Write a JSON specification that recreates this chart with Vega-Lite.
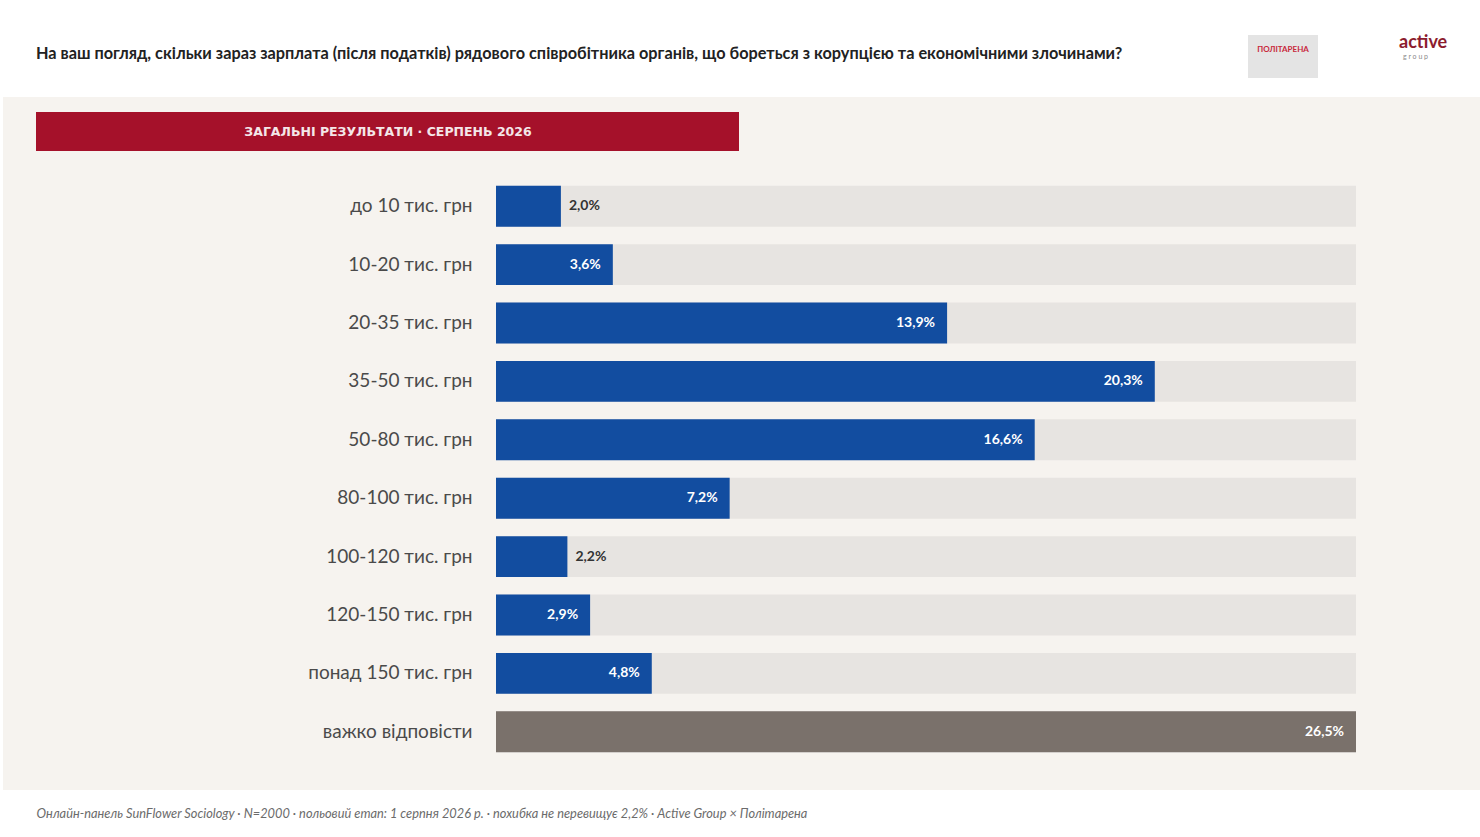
{
  "$schema": "https://vega.github.io/schema/vega-lite/v6.json",
  "autosize": {"type": "none"},
  "width": 1477,
  "height": 693,
  "padding": {"left": 3, "top": 97, "right": 0, "bottom": 47},
  "background": "white",
  "view": {"fill": "#f6f3ef", "stroke": null},
  "config": {
    "view": {"fill": "#f6f3ef", "stroke": null},
    "font": "Lato"
  },
  "data": {
    "values": [
      {"category": "до 10 тис. грн", "value": 2.0, "label": "2,0%", "group": "answer"},
      {"category": "10-20 тис. грн", "value": 3.6, "label": "3,6%", "group": "answer"},
      {"category": "20-35 тис. грн", "value": 13.9, "label": "13,9%", "group": "answer"},
      {"category": "35-50 тис. грн", "value": 20.3, "label": "20,3%", "group": "answer"},
      {"category": "50-80 тис. грн", "value": 16.6, "label": "16,6%", "group": "answer"},
      {"category": "80-100 тис. грн", "value": 7.2, "label": "7,2%", "group": "answer"},
      {"category": "100-120 тис. грн", "value": 2.2, "label": "2,2%", "group": "answer"},
      {"category": "120-150 тис. грн", "value": 2.9, "label": "2,9%", "group": "answer"},
      {"category": "понад 150 тис. грн", "value": 4.8, "label": "4,8%", "group": "answer"},
      {"category": "важко відповісти", "value": 26.5, "label": "26,5%", "group": "hard"}
    ]
  },
  "transform": [
    {"joinaggregate": [{"op": "max", "field": "value", "as": "maxv"}]}
  ],
  "layer": [
    {
      "mark": {"type": "bar", "color": "#e7e4e1"},
      "encoding": {
        "y": {
          "field": "category",
          "type": "nominal",
          "sort": null,
          "scale": {"range": [80, 664], "paddingInner": 0.3, "paddingOuter": 0.15},
          "axis": {
            "orient": "left",
            "offset": -493,
            "labelPadding": 24,
            "domain": false,
            "ticks": false,
            "grid": false,
            "title": null,
            "labelFont": "Lato",
            "labelFontSize": 19,
            "labelColor": "#4a4a4a",
            "labelLimit": 400
          }
        },
        "x": {
          "field": "maxv",
          "type": "quantitative",
          "scale": {"domain": [0, 26.5], "range": [493, 1353], "nice": false},
          "axis": {
            "orient": "bottom",
            "labels": false,
            "ticks": false,
            "domain": false,
            "grid": false,
            "title": "Онлайн-панель SunFlower Sociology · N=2000 · польовий етап: 1 серпня 2026 р. · похибка не перевищує 2,2% · Active Group × Політарена",
            "titleFont": "Lato",
            "titleFontStyle": "italic",
            "titleFontWeight": "normal",
            "titleFontSize": 12.8,
            "titleColor": "#6b6b6b",
            "titleAnchor": "start",
            "titleAlign": "left",
            "titleBaseline": "middle",
            "titleX": 33,
            "titleY": 23
          }
        }
      }
    },
    {
      "mark": {"type": "bar"},
      "encoding": {
        "y": {"field": "category", "type": "nominal", "sort": null},
        "x": {"field": "value", "type": "quantitative"},
        "color": {
          "field": "group",
          "type": "nominal",
          "scale": {"domain": ["answer", "hard"], "range": ["#124da0", "#7a716b"]},
          "legend": null
        }
      }
    },
    {
      "transform": [{"filter": "datum.value >= 2.5"}],
      "mark": {"type": "text", "align": "right", "baseline": "middle", "dx": -12, "color": "white", "font": "Lato", "fontSize": 14, "fontWeight": "bold"},
      "encoding": {
        "y": {"field": "category", "type": "nominal", "sort": null},
        "x": {"field": "value", "type": "quantitative"},
        "text": {"field": "label"}
      }
    },
    {
      "transform": [{"filter": "datum.value < 2.5"}],
      "mark": {"type": "text", "align": "left", "baseline": "middle", "dx": 8, "color": "#333333", "font": "Lato", "fontSize": 14, "fontWeight": "bold"},
      "encoding": {
        "y": {"field": "category", "type": "nominal", "sort": null},
        "x": {"field": "value", "type": "quantitative"},
        "text": {"field": "label"}
      }
    },
    {
      "data": {"values": [{"t": "На ваш погляд, скільки зараз зарплата (після податків) рядового співробітника органів, що бореться з корупцією та економічними злочинами?"}]},
      "mark": {"type": "text", "x": 33, "y": -43, "align": "left", "baseline": "middle", "color": "#222222", "font": "Lato", "fontSize": 16.3, "fontWeight": "bold"},
      "encoding": {"text": {"field": "t"}}
    },
    {
      "data": {"values": [{"t": "ЗАГАЛЬНІ РЕЗУЛЬТАТИ · СЕРПЕНЬ 2026"}]},
      "mark": {"type": "rect", "x": 33, "x2": 736, "y": 15, "y2": 54, "color": "#a5112a"},
      "encoding": {}
    },
    {
      "data": {"values": [{"t": "ЗАГАЛЬНІ РЕЗУЛЬТАТИ · СЕРПЕНЬ 2026"}]},
      "mark": {"type": "text", "x": 385, "y": 35, "align": "center", "baseline": "middle", "color": "#f4e6e8", "font": "DejaVu Sans", "fontSize": 12.5, "fontWeight": "bold"},
      "encoding": {"text": {"field": "t"}}
    },
    {
      "data": {"values": [{"t": "logo"}]},
      "mark": {"type": "rect", "x": 1245, "x2": 1315, "y": -62, "y2": -19, "color": "#e4e4e4"},
      "encoding": {}
    },
    {
      "data": {"values": [{"t": "ПОЛІТАРЕНА"}]},
      "mark": {"type": "text", "x": 1280, "y": -47, "align": "center", "baseline": "middle", "color": "#c8283c", "font": "Lato", "fontSize": 8, "fontWeight": "bold"},
      "encoding": {"text": {"field": "t"}}
    },
    {
      "data": {"values": [{"t": "active"}]},
      "mark": {"type": "text", "x": 1396, "y": -54, "align": "left", "baseline": "middle", "color": "#8c1c2e", "font": "Lato", "fontSize": 18, "fontWeight": "bold"},
      "encoding": {"text": {"field": "t"}}
    },
    {
      "data": {"values": [{"t": "g r o u p"}]},
      "mark": {"type": "text", "x": 1400, "y": -40, "align": "left", "baseline": "middle", "color": "#8a8a8a", "font": "Lato", "fontSize": 7},
      "encoding": {"text": {"field": "t"}}
    }
  ]
}
